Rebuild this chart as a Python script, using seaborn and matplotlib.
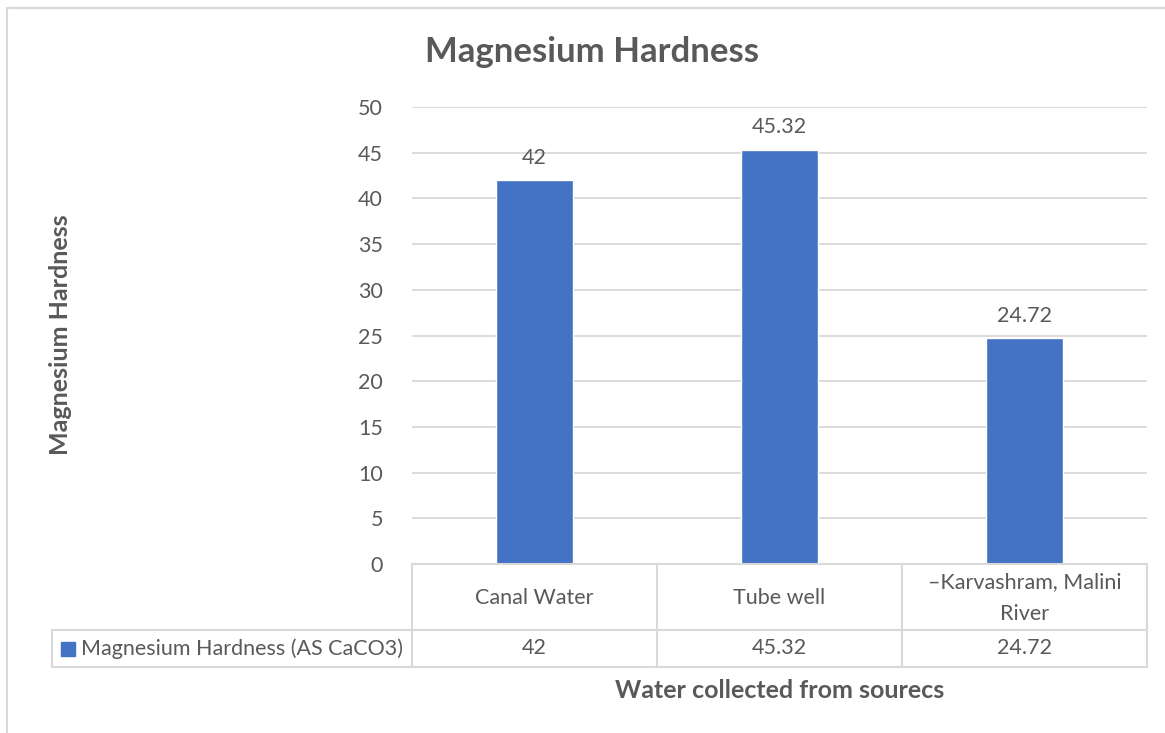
import matplotlib
matplotlib.use("Agg")
import matplotlib.pyplot as plt
from matplotlib.lines import Line2D
from matplotlib.patches import Rectangle
import seaborn as sns
import pandas as pd

categories = ["Canal Water", "Tube well", "–Karvashram, Malini\nRiver"]
values = [42, 45.32, 24.72]
series_name = "Magnesium Hardness (AS CaCO3)"
title = "Magnesium Hardness"
ylabel = "Magnesium Hardness"
xlabel = "Water collected from sourecs"
yticks = [0, 5, 10, 15, 20, 25, 30, 35, 40, 45, 50]

sns.set_theme(style="white")
plt.rcParams['font.family'] = ['Lato', 'DejaVu Sans']

W, H = 1165, 733
fig = plt.figure(figsize=(W / 100, H / 100), dpi=100)
txt = "#595959"
grid = "#D9D9D9"
bar_color = "#4472C4"
fs = 15.5

# plot area in pixels
x0, x1 = 412, 1147
y_top, y_bot = 107, 564
ax = fig.add_axes([x0 / W, 1 - y_bot / H, (x1 - x0) / W, (y_bot - y_top) / H])

df = pd.DataFrame({"cat": categories, "val": values})
sns.barplot(data=df, x="cat", y="val", color=bar_color, width=0.315,
            saturation=1, ax=ax, zorder=3)
ax.set_ylim(0, 50)
ax.set_xlim(-0.5, len(categories) - 0.5)
ax.set_yticks(yticks)
ax.set_yticklabels([str(t) for t in yticks], fontsize=fs, color=txt)
ax.tick_params(axis="y", length=0, pad=21)
ax.set_xticks([])
ax.set_xlabel("")
ax.set_ylabel("")
for s in ax.spines.values():
    s.set_visible(False)
ax.yaxis.grid(True, color=grid, linewidth=1.3, zorder=0)
ax.set_axisbelow(True)
for c in ax.containers:
    ax.bar_label(c, labels=[f"{v:g}" for v in values], padding=9,
                 fontsize=fs, color=txt)

def fx(px):
    return px / W

def fy(py):
    return 1 - py / H

def hline(y, xa, xb):
    fig.add_artist(Line2D([fx(xa), fx(xb)], [fy(y), fy(y)], color=grid, lw=1.5,
                          transform=fig.transFigure))

def vline(x, ya, yb):
    fig.add_artist(Line2D([fx(x), fx(x)], [fy(ya), fy(yb)], color=grid, lw=1.5,
                          transform=fig.transFigure))

# outer chart border
hline(8, 7, W)
vline(7, 8, H)

# data table
row1, row2, row3 = 564, 630, 667
cols = [412, 657, 902, 1147]
hline(row1, cols[0], cols[-1])
hline(row2, 52, cols[-1])
hline(row3, 52, cols[-1])
vline(52, row2, row3)
for c in cols:
    vline(c, row1, row3)

for i, (cat, v) in enumerate(zip(categories, values)):
    cx = (cols[i] + cols[i + 1]) / 2
    fig.text(fx(cx), fy((row1 + row2) / 2 + 1), cat, ha="center", va="center",
             fontsize=fs, color=txt, linespacing=1.75)
    fig.text(fx(cx), fy((row2 + row3) / 2), f"{v:g}", ha="center", va="center",
             fontsize=fs, color=txt)

fig.add_artist(Rectangle((fx(61), fy(656)), 14 / W, 14 / H, color=bar_color,
                         transform=fig.transFigure))
fig.text(fx(81), fy((row2 + row3) / 2), series_name, ha="left", va="center",
         fontsize=fs, color=txt)

# titles
fig.text(fx(592), fy(52), title, ha="center", va="center", fontsize=25,
         fontweight="bold", color=txt)
fig.text(fx(60), fy(335), ylabel, ha="center", va="center", rotation=90,
         fontsize=18, fontweight="bold", color=txt)
fig.text(fx(780), fy(690), xlabel, ha="center", va="center",
         fontsize=18, fontweight="bold", color=txt)

fig.savefig("out.png", dpi=100, facecolor="white")
